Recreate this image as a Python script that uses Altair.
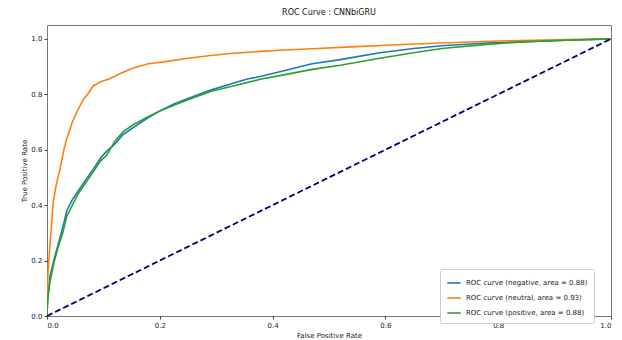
import altair as alt
import pandas as pd

title_text = "ROC Curve : CNNbiGRU"
x_title = "False Positive Rate"
y_title = "True Positive Rate"

labels = [
    "ROC curve (negative, area = 0.88)",
    "ROC curve (neutral, area = 0.93)",
    "ROC curve (positive, area = 0.88)",
]
colors = ["#1f77b4", "#ff7f0e", "#2ca02c"]

neg_fpr = [0, 0.001, 0.005, 0.012, 0.02, 0.028, 0.035, 0.045, 0.055, 0.065, 0.082, 0.095, 0.106, 0.12, 0.135,
           0.153, 0.175, 0.2, 0.225, 0.25, 0.29, 0.33, 0.355, 0.38, 0.42, 0.47, 0.52, 0.59, 0.65, 0.70, 0.78,
           0.85, 0.92, 1.0]
neg_tpr = [0, 0.05, 0.14, 0.2, 0.26, 0.32, 0.38, 0.42, 0.45, 0.48, 0.53, 0.57, 0.595, 0.62, 0.655, 0.68, 0.71,
           0.74, 0.765, 0.785, 0.815, 0.84, 0.855, 0.865, 0.885, 0.91, 0.925, 0.95, 0.965, 0.975, 0.985, 0.99,
           0.995, 1.0]

neu_fpr = [0, 0.0, 0.002, 0.004, 0.008, 0.011, 0.016, 0.023, 0.03, 0.035, 0.045, 0.055, 0.064, 0.072, 0.082,
           0.095, 0.11, 0.13, 0.153, 0.18, 0.21, 0.25, 0.29, 0.33, 0.38, 0.42, 0.48, 0.53, 0.61, 0.70, 0.80,
           0.90, 1.0]
neu_tpr = [0, 0.08, 0.16, 0.22, 0.33, 0.41, 0.47, 0.53, 0.6, 0.64, 0.7, 0.745, 0.78, 0.80, 0.83, 0.845, 0.855,
           0.875, 0.895, 0.91, 0.918, 0.93, 0.94, 0.948, 0.955, 0.96, 0.965, 0.97, 0.978, 0.985, 0.992, 0.997,
           1.0]

pos_fpr = [0, 0.001, 0.005, 0.012, 0.02, 0.028, 0.035, 0.045, 0.055, 0.065, 0.082, 0.095, 0.106, 0.12, 0.135,
           0.153, 0.175, 0.2, 0.225, 0.25, 0.29, 0.33, 0.38, 0.42, 0.47, 0.52, 0.59, 0.65, 0.70, 0.78, 0.85,
           0.92, 1.0]
pos_tpr = [0, 0.06, 0.12, 0.19, 0.25, 0.3, 0.36, 0.40, 0.44, 0.47, 0.52, 0.56, 0.58, 0.63, 0.665, 0.69, 0.715,
           0.74, 0.76, 0.78, 0.81, 0.83, 0.855, 0.87, 0.89, 0.905, 0.93, 0.95, 0.965, 0.98, 0.99, 0.995, 1.0]

diag_x = [0.0, 1.0]
diag_y = [0.0, 1.0]

rows = []
for lab, fx, ty in zip(labels, [neg_fpr, neu_fpr, pos_fpr], [neg_tpr, neu_tpr, pos_tpr]):
    for i, (a, b) in enumerate(zip(fx, ty)):
        rows.append({"fpr": a, "tpr": b, "cls": lab, "idx": i})
df = pd.DataFrame(rows)
ddf = pd.DataFrame({"fpr": diag_x, "tpr": diag_y})

FONT = "DejaVu Sans"

xenc = alt.X("fpr:Q", scale=alt.Scale(domain=[0, 1], nice=False, zero=False),
             axis=alt.Axis(title=x_title, values=[0, 0.2, 0.4, 0.6, 0.8, 1.0], format=".1f"))
yenc = alt.Y("tpr:Q", scale=alt.Scale(domain=[0, 1.05], nice=False, zero=False),
             axis=alt.Axis(title=y_title, values=[0, 0.2, 0.4, 0.6, 0.8, 1.0], format=".1f"))

curves = alt.Chart(df).mark_line(strokeWidth=1.6, clip=True).encode(
    x=xenc,
    y=yenc,
    order="idx:Q",
    color=alt.Color("cls:N", scale=alt.Scale(domain=labels, range=colors),
                    legend=alt.Legend(title=None, orient="none", legendX=393, legendY=244,
                                      symbolType="stroke", symbolSize=180, symbolStrokeWidth=1.6,
                                      labelFontSize=7, labelFont=FONT, labelColor="#222",
                                      rowPadding=3, padding=6, strokeColor="#cccccc",
                                      fillColor="white", cornerRadius=2)),
)

diag = alt.Chart(ddf).mark_line(color="#000080", strokeWidth=1.8, strokeDash=[6, 3]).encode(
    x="fpr:Q", y="tpr:Q"
)

chart = alt.layer(curves, diag).properties(
    width=564, height=291,
    title=alt.Title(title_text, fontSize=8, font=FONT, fontWeight="normal", color="#111", offset=8),
    autosize=alt.AutoSizeParams(type="none"),
    padding={"left": 47, "top": 25, "right": 11, "bottom": 24},
).configure_view(stroke="#777", strokeWidth=1).configure_axis(
    grid=False, domain=False, tickColor="#444", tickSize=3, labelFontSize=7, labelFont=FONT,
    labelColor="#222", titleFontSize=7, titleFont=FONT, titleFontWeight="normal", titleColor="#222",
    labelPadding=2, titlePadding=3,
)

chart.save("out.html", embed_options={"renderer": "svg", "actions": False})
